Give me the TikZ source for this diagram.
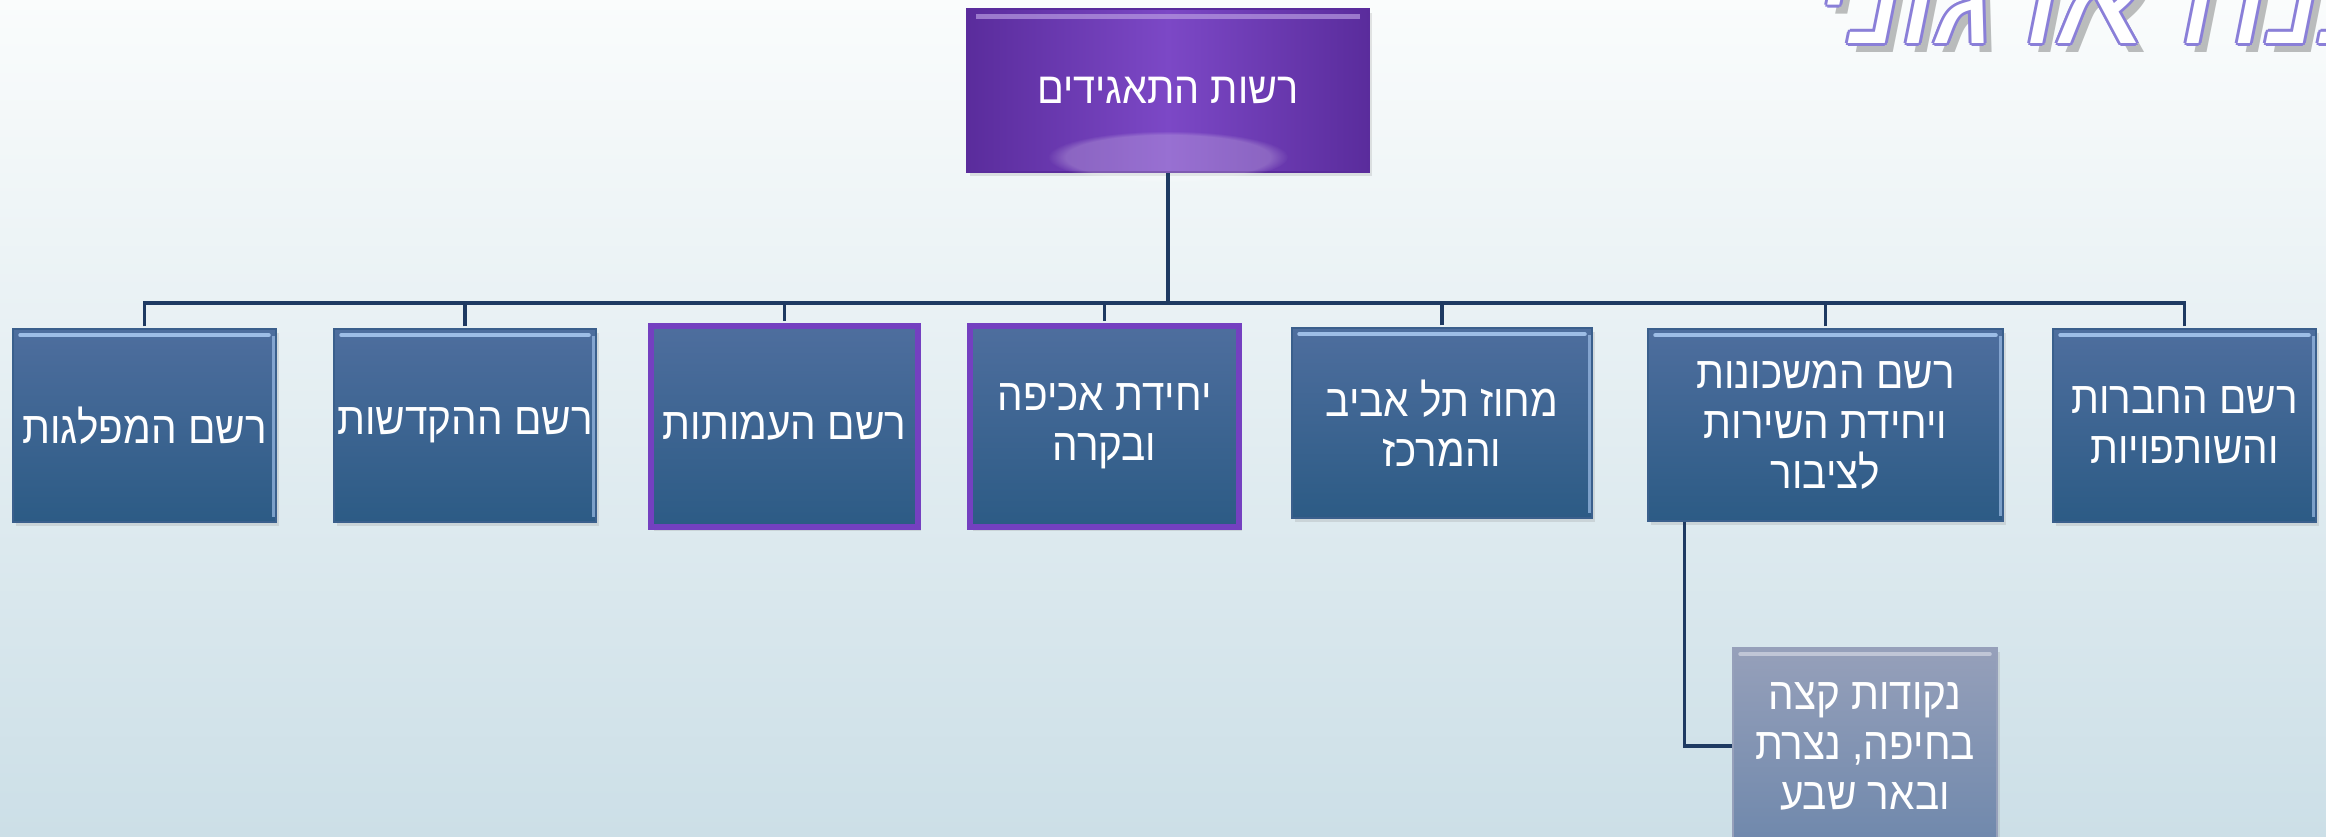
\documentclass[tikz,border=0pt]{standalone}
\usepackage{fontspec}
\setmainfont[Script=Hebrew,FakeStretch=0.9]{Liberation Sans}
\newfontfamily\titlefont[Script=Hebrew,FakeSlant=0.2]{Liberation Sans}
\TeXXeTstate=1
\newcommand{\RL}[1]{\beginR #1\endR}
\usetikzlibrary{calc,shadows,fadings}
\definecolor{bgtop}{HTML}{FAFCFC}
\definecolor{bgbot}{HTML}{CCDFE7}
\definecolor{boxtop}{HTML}{4E6E9E}
\definecolor{boxbot}{HTML}{2C5B85}
\definecolor{boxedge}{HTML}{3A5F8C}
\definecolor{hlblue}{HTML}{9DBDE6}
\definecolor{connc}{HTML}{1E3A62}
\definecolor{purpS}{HTML}{5A2C9C}
\definecolor{purpM}{HTML}{7C48C6}
\definecolor{purpB}{HTML}{7440C0}
\definecolor{greytop}{HTML}{96A0BA}
\definecolor{greybot}{HTML}{6F88AC}
\definecolor{titleedge}{HTML}{8A7FD8}
\tikzset{
  orgbox/.style={draw=boxedge, line width=1.5pt, top color=boxtop, bottom color=boxbot,
    text=white, font=\fontsize{45}{50}\selectfont, align=center, inner sep=0pt,
    drop shadow={opacity=0.2, shadow xshift=3pt, shadow yshift=-4pt}},
  pborder/.style={draw=purpB, line width=6pt},
  purpbox/.style={draw=purpS, line width=2pt, left color=purpS, right color=purpS, middle color=purpM},
  greybox/.style={draw=greytop, top color=greytop, bottom color=greybot},
  conn/.style={draw=connc, line width=3.5pt},
  hl/.style={draw=hlblue, line width=4pt, line cap=round},
  titlestyle/.style={font=\titlefont\fontsize{135}{140}\selectfont, anchor=base west, inner sep=0pt}
}
\begin{document}
\begin{tikzpicture}[x=1pt,y=-1pt]
\useasboundingbox (0,0) rectangle (2326,836);
\clip (0,0) rectangle (2326,836);
\fill[top color=bgtop,bottom color=bgbot] (0,0) rectangle (2326,836);

% title (cut at the top)
\node[titlestyle, text=black, opacity=0.25] (titleshadow) at (1816,52) {\RL{מבנה ארגוני}};
\foreach \dx/\dy in {-3/0,3/0,0/-3,0/3,-2/-2,2/2,-2/2,2/-2} {
  \node[titlestyle, text=titleedge] at ($(1808,43)+(\dx,\dy)$) {\RL{מבנה ארגוני}};
}
\node[titlestyle, text=white] (title) at (1808,43) {\RL{מבנה ארגוני}};

% connectors
\coordinate (bus) at (1168,303);

% boxes
\node[orgbox, purpbox, minimum width=402pt, minimum height=163pt, font=\fontsize{44}{48}\selectfont] (top) at (1168,90.5) {\RL{רשות התאגידים}};
\fill[white, opacity=0.22, path fading=circle with fuzzy edge 15 percent] ($(top.south)+(0,-16)$) ellipse (120pt and 26pt);
\draw[draw=purpM!55!white, line width=5pt, opacity=0.7] ($(top.north west)+(10,8)$) -- ($(top.north east)+(-10,8)$);

\node[orgbox, minimum width=263pt, minimum height=193pt] (c1) at (144.5,425.5) {\RL{רשם המפלגות}};
\node[orgbox, minimum width=262pt, minimum height=193pt] (c2) at (465,425.5) {\RL{רשם ההקדשות}};
\node[orgbox, pborder, minimum width=267pt, minimum height=201pt] (c3) at (784.5,426.5) {\RL{רשם העמותות}};
\node[orgbox, pborder, minimum width=269pt, minimum height=201pt] (c4) at (1104.5,426.5) {\RL{יחידת אכיפה}\\\RL{ובקרה}};
\node[orgbox, minimum width=300pt, minimum height=190pt] (c5) at (1442,423) {\RL{מחוז תל אביב}\\\RL{והמרכז}};
\node[orgbox, minimum width=355pt, minimum height=192pt] (c6) at (1825.5,425) {\RL{רשם המשכונות}\\\RL{ויחידת השירות}\\\RL{לציבור}};
\node[orgbox, minimum width=263pt, minimum height=193pt] (c7) at (2184.5,425.5) {\RL{רשם החברות}\\\RL{והשותפויות}};
\node[orgbox, greybox, minimum width=264pt, minimum height=196pt] (c8) at (1865,746) {\RL{נקודות קצה}\\\RL{בחיפה, נצרת}\\\RL{ובאר שבע}};

\foreach \n in {c1,c2,c5,c6,c7} {
  \draw[hl] ($(\n.north west)+(8,7)$) -- ($(\n.north east)+(-8,7)$);
  \draw[draw=hlblue, line width=3pt, opacity=0.7] ($(\n.north east)+(-3,8)$) -- ($(\n.south east)+(-3,-6)$);
}
\draw[draw=greytop!60!white, line width=4pt, line cap=round] ($(c8.north west)+(8,7)$) -- ($(c8.north east)+(-8,7)$);

\draw[conn] (top.south) -- (bus);
\foreach \n in {c1,c2,c3,c4,c5,c6,c7} {
  \draw[conn, shorten <=2pt] (\n.north) |- (bus);
}
\draw[conn] ($(c6.south west)+(37,0)$) |- (c8.west);
\end{tikzpicture}
\end{document}
